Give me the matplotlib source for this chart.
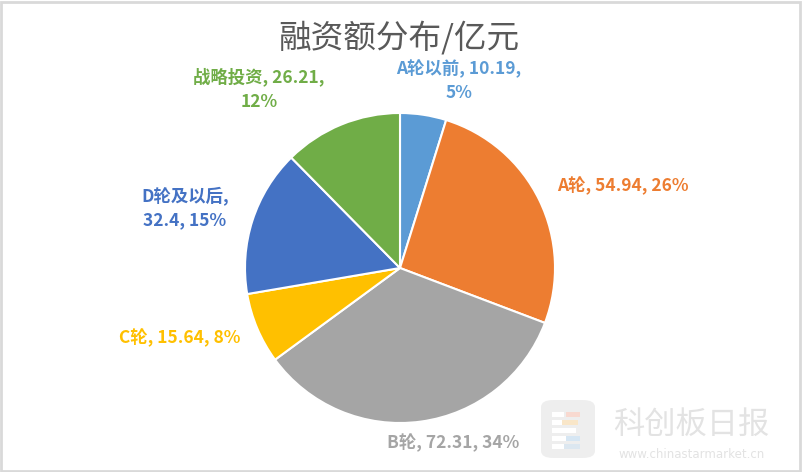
import matplotlib
matplotlib.use("Agg")
import matplotlib.pyplot as plt
from matplotlib.patches import FancyBboxPatch, Rectangle

plt.rcParams['font.family'] = ['Noto Sans CJK SC', 'DejaVu Sans']

categories = ["A轮以前", "A轮", "B轮", "C轮", "D轮及以后", "战略投资"]
values = [10.19, 54.94, 72.31, 15.64, 32.4, 26.21]
percents = ["5%", "26%", "34%", "8%", "15%", "12%"]
colors = ["#5B9BD5", "#ED7D31", "#A5A5A5", "#FFC000", "#4472C4", "#70AD47"]
label_texts = [
    "A轮以前, 10.19,\n5%",
    "A轮, 54.94, 26%",
    "B轮, 72.31, 34%",
    "C轮, 15.64, 8%",
    "D轮及以后,\n32.4, 15%",
    "战略投资, 26.21,\n12%",
]
# label centre positions in pixels (x, y from top)
label_pos = [(459, 81), (623, 186), (453, 443), (180, 338), (185, 208), (259, 89)]

W, H = 802, 472
fig = plt.figure(figsize=(W / 100, H / 100), dpi=100)
fig.patch.set_facecolor("white")

# border
fig.add_artist(Rectangle((1 / W, 1 / H), 1 - 3 / W, 1 - 3 / H, transform=fig.transFigure,
                         fill=False, edgecolor="#D9D9D9", linewidth=2))

cx, cy, r = 400, 268, 155
ax = fig.add_axes([(cx - r) / W, 1 - (cy + r) / H, 2 * r / W, 2 * r / H])
ax.pie(values, colors=colors, startangle=90, counterclock=False,
       wedgeprops=dict(edgecolor="white", linewidth=1.5))
ax.set_aspect("equal")
ax.set_xlim(-1, 1)
ax.set_ylim(-1, 1)
ax.axis("off")

for txt, (x, y), c in zip(label_texts, label_pos, colors):
    fig.text(x / W, 1 - y / H, txt, color=c, fontsize=12.5, fontweight="bold",
             ha="center", va="center", linespacing=1.45)

fig.text(399 / W, 1 - 38 / H, "融资额分布/亿元", color="#595959", fontsize=23.5,
         ha="center", va="center")

# watermark
logo = FancyBboxPatch((541 / W, 1 - 458 / H), 54 / W, 58 / H,
                      boxstyle="round,pad=0,rounding_size=0.015",
                      transform=fig.transFigure, facecolor="#EDEDED", edgecolor="none", alpha=0.9)
fig.add_artist(logo)
bars = [(552, 412, 12, "#FFFFFF"), (566, 412, 14, "#F8D9D0"), (552, 420, 10, "#FFFFFF"),
        (562, 420, 16, "#F9E6C8"), (552, 428, 24, "#FFFFFF"), (552, 436, 14, "#FFFFFF"),
        (566, 436, 14, "#D6E6F3"), (552, 444, 12, "#FFFFFF"), (564, 444, 16, "#DCE7F0")]
for bx, by, bw, bc in bars:
    fig.add_artist(Rectangle((bx / W, 1 - (by + 5) / H), bw / W, 5 / H,
                             transform=fig.transFigure, facecolor=bc, edgecolor="none"))
fig.text(691 / W, 1 - 425 / H, "科创板日报", color="#E3E3E3", fontsize=22.5,
         ha="center", va="center")
fig.text(692 / W, 1 - 455 / H, "www.chinastarmarket.cn", color="#E3E3E3", fontsize=8.5,
         ha="center", va="center", family=["DejaVu Sans"])

fig.savefig("out.png", dpi=100)
